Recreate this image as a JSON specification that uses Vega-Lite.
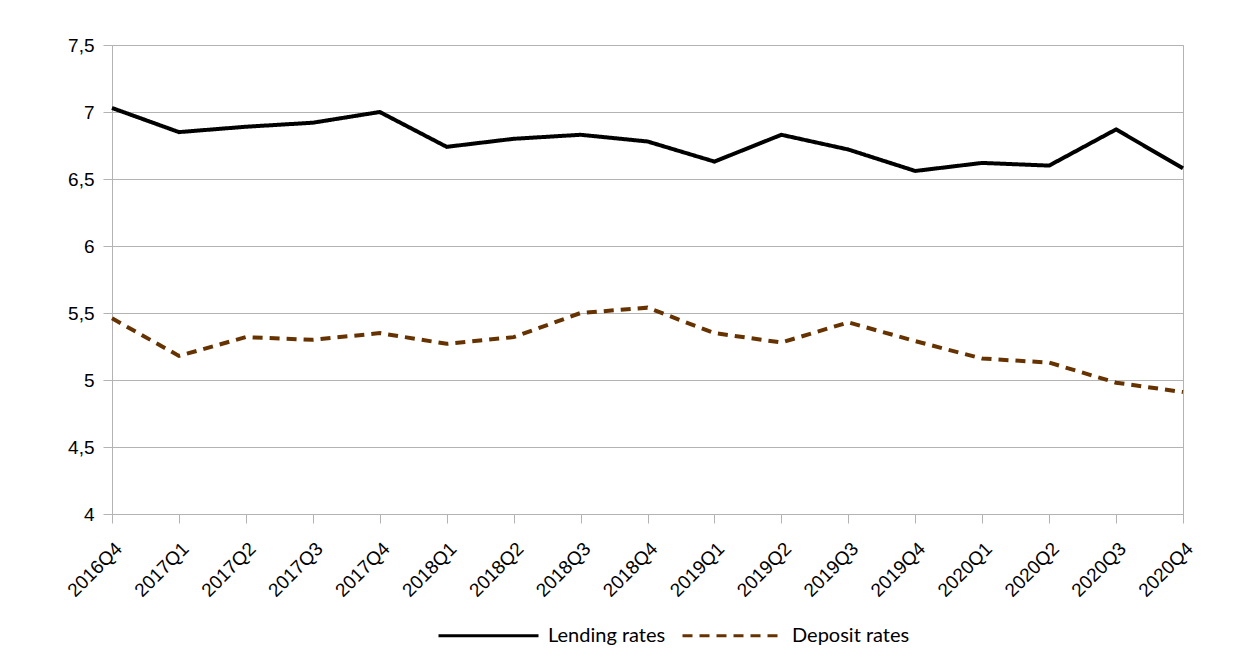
{
  "$schema": "https://vega.github.io/schema/vega-lite/v6.json",
  "width": 1071,
  "height": 469,
  "autosize": {"type": "none"},
  "padding": {"left": 112, "top": 45, "right": 55, "bottom": 148},
  "background": "#ffffff",
  "config": {
    "view": {"stroke": "#b3b3b3", "strokeWidth": 1},
    "font": "Liberation Sans"
  },
  "data": {
    "values": [
      {"quarter": "2016Q4", "series": "Lending rates", "rate": 7.03},
      {"quarter": "2017Q1", "series": "Lending rates", "rate": 6.85},
      {"quarter": "2017Q2", "series": "Lending rates", "rate": 6.89},
      {"quarter": "2017Q3", "series": "Lending rates", "rate": 6.92},
      {"quarter": "2017Q4", "series": "Lending rates", "rate": 7.0},
      {"quarter": "2018Q1", "series": "Lending rates", "rate": 6.74},
      {"quarter": "2018Q2", "series": "Lending rates", "rate": 6.8},
      {"quarter": "2018Q3", "series": "Lending rates", "rate": 6.83},
      {"quarter": "2018Q4", "series": "Lending rates", "rate": 6.78},
      {"quarter": "2019Q1", "series": "Lending rates", "rate": 6.63},
      {"quarter": "2019Q2", "series": "Lending rates", "rate": 6.83},
      {"quarter": "2019Q3", "series": "Lending rates", "rate": 6.72},
      {"quarter": "2019Q4", "series": "Lending rates", "rate": 6.56},
      {"quarter": "2020Q1", "series": "Lending rates", "rate": 6.62},
      {"quarter": "2020Q2", "series": "Lending rates", "rate": 6.6},
      {"quarter": "2020Q3", "series": "Lending rates", "rate": 6.87},
      {"quarter": "2020Q4", "series": "Lending rates", "rate": 6.58},
      {"quarter": "2016Q4", "series": "Deposit rates", "rate": 5.46},
      {"quarter": "2017Q1", "series": "Deposit rates", "rate": 5.18},
      {"quarter": "2017Q2", "series": "Deposit rates", "rate": 5.32},
      {"quarter": "2017Q3", "series": "Deposit rates", "rate": 5.3},
      {"quarter": "2017Q4", "series": "Deposit rates", "rate": 5.35},
      {"quarter": "2018Q1", "series": "Deposit rates", "rate": 5.27},
      {"quarter": "2018Q2", "series": "Deposit rates", "rate": 5.32},
      {"quarter": "2018Q3", "series": "Deposit rates", "rate": 5.5},
      {"quarter": "2018Q4", "series": "Deposit rates", "rate": 5.54},
      {"quarter": "2019Q1", "series": "Deposit rates", "rate": 5.35},
      {"quarter": "2019Q2", "series": "Deposit rates", "rate": 5.28},
      {"quarter": "2019Q3", "series": "Deposit rates", "rate": 5.43},
      {"quarter": "2019Q4", "series": "Deposit rates", "rate": 5.29},
      {"quarter": "2020Q1", "series": "Deposit rates", "rate": 5.16},
      {"quarter": "2020Q2", "series": "Deposit rates", "rate": 5.13},
      {"quarter": "2020Q3", "series": "Deposit rates", "rate": 4.98},
      {"quarter": "2020Q4", "series": "Deposit rates", "rate": 4.91}
    ]
  },
  "mark": {"type": "line", "strokeWidth": 4, "strokeCap": "butt", "strokeJoin": "miter"},
  "encoding": {
    "x": {
      "field": "quarter",
      "type": "ordinal",
      "sort": null,
      "scale": {"type": "point", "padding": 0},
      "axis": {
        "title": null,
        "labelAngle": -45,
        "labelAlign": "right",
        "labelBaseline": "top",
        "labelFont": "Liberation Sans",
        "labelFontSize": 19,
        "labelColor": "#000000",
        "labelPadding": 16,
        "tickSize": 9,
        "tickColor": "#b3b3b3",
        "domainColor": "#b3b3b3",
        "grid": false
      }
    },
    "y": {
      "field": "rate",
      "type": "quantitative",
      "scale": {"domain": [4, 7.5], "nice": false, "zero": false},
      "axis": {
        "title": null,
        "values": [4, 4.5, 5, 5.5, 6, 6.5, 7, 7.5],
        "labelExpr": "replace(format(datum.value, ''), '.', ',')",
        "labelFont": "Liberation Sans",
        "labelFontSize": 19,
        "labelColor": "#000000",
        "labelPadding": 9,
        "tickSize": 9,
        "tickColor": "#b3b3b3",
        "domainColor": "#b3b3b3",
        "gridColor": "#b3b3b3",
        "gridWidth": 1
      }
    },
    "color": {
      "field": "series",
      "type": "nominal",
      "sort": ["Lending rates", "Deposit rates"],
      "scale": {"domain": ["Lending rates", "Deposit rates"], "range": ["#000000", "#663300"]},
      "legend": {
        "title": null,
        "orient": "none",
        "direction": "horizontal",
        "legendX": 325,
        "legendY": 539,
        "symbolType": "stroke",
        "symbolSize": 10000,
        "symbolStrokeWidth": 3,
        "labelFont": "Lato",
        "labelFontSize": 20,
        "labelColor": "#000000",
        "columnPadding": 10,
        "labelOffset": 8
      }
    },
    "strokeDash": {
      "field": "series",
      "type": "nominal",
      "sort": ["Lending rates", "Deposit rates"],
      "scale": {"domain": ["Lending rates", "Deposit rates"], "range": [[1, 0], [10, 7]]},
      "legend": null
    }
  }
}
